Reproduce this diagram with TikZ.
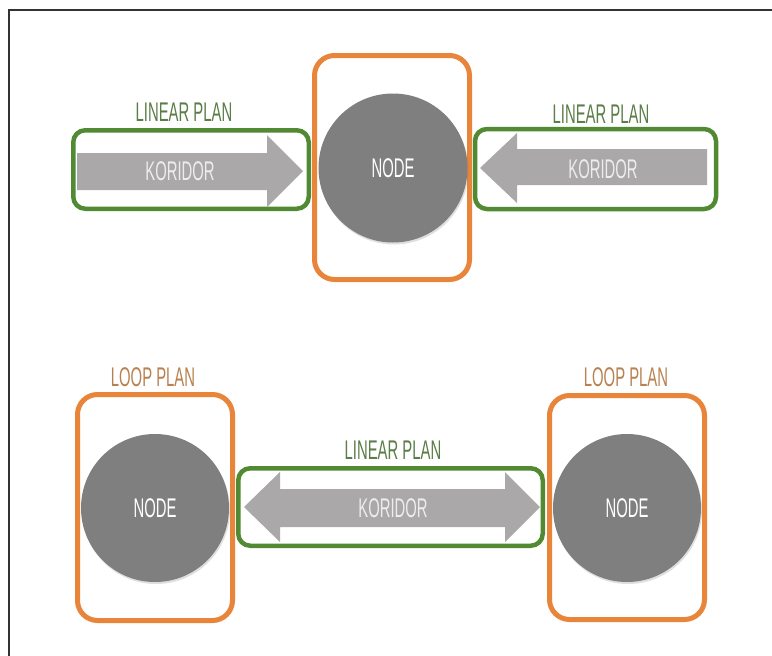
\documentclass[tikz,border=0pt]{standalone}
\usepackage{fontspec}
\usetikzlibrary{shadows}
\newfontfamily\agency[FakeStretch=0.55]{Liberation Sans}
\definecolor{grn}{HTML}{528A34}
\definecolor{org}{HTML}{E8853A}
\definecolor{nodegray}{HTML}{7F7F7F}
\definecolor{arrgray}{HTML}{AAA8A9}
\definecolor{lintxt}{HTML}{5B7D47}
\definecolor{looptxt}{HTML}{B8814F}
\definecolor{frame}{HTML}{333333}
\begin{document}
\begin{tikzpicture}[x=1pt,y=-1pt,
  gbox/.style={draw=grn, line width=4.5pt, rounded corners=12pt, minimum height=78.5pt},
  obox/.style={draw=org, line width=5pt, rounded corners=20pt, minimum width=155pt, minimum height=225pt},
  nodecirc/.style={circle, fill=nodegray, text=white, inner sep=0pt, minimum size=148pt,
    drop shadow={opacity=0.25, shadow xshift=1pt, shadow yshift=-2pt},
    font=\agency\fontsize{27}{27}\selectfont},
  arrow/.style={fill=arrgray},
  kortxt/.style={text=white!93!black, font=\agency\fontsize{27}{27}\selectfont},
  lintitle/.style={text=lintxt, font=\agency\fontsize{27}{27}\selectfont},
  looptitle/.style={text=looptxt, font=\agency\fontsize{27}{27}\selectfont}
]
\useasboundingbox (0,0) rectangle (772,656);
\clip (0,0) rectangle (772,656);
\fill[white] (0,0) rectangle (772,656);
\draw[frame, line width=1.4pt] (9,700) -- (9,10) -- (800,10);

% top row
\node[gbox, minimum width=235.5pt] (gL) at (191,169.5) {};
\node[gbox, minimum width=241pt, minimum height=80pt] (gR) at (595.5,169) {};
\node[obox, minimum height=224pt] (oC) at (392,167.5) {};
\node[nodecirc, minimum size=149pt] (nC) at (393,168) {NODE};
\fill[arrow] (77,153) -- (267,153) -- (267,135) -- (303,171) -- (267,207) -- (267,190) -- (77,190) -- cycle;
\fill[arrow] (707,149) -- (517,149) -- (517,133) -- (480,168) -- (517,203) -- (517,185) -- (707,185) -- cycle;
\node[kortxt] (kL) at (180,171) {KORIDOR};
\node[kortxt] (kR) at (603,169) {KORIDOR};
\node[lintitle] (tL) at (184,112.5) {LINEAR PLAN};
\node[lintitle] (tR) at (601,114.5) {LINEAR PLAN};

% bottom row
\node[obox, minimum height=226pt] (oL) at (155,507.5) {};
\node[obox, minimum height=224pt] (oR) at (627,507.5) {};
\node[nodecirc] (nL) at (155,508) {NODE};
\node[nodecirc] (nR) at (627,508) {NODE};
\node[gbox, minimum width=304.5pt, minimum height=77.5pt] (gM) at (390.5,507) {};
\fill[arrow] (244,507) -- (280,472) -- (280,489) -- (505,489) -- (505,472) -- (540,507) -- (505,542) -- (505,527) -- (280,527) -- (280,542) -- cycle;
\node[kortxt] (kM) at (393,508) {KORIDOR};
\node[lintitle] (tM) at (393,450) {LINEAR PLAN};
\node[looptitle] (lL) at (153,377) {LOOP PLAN};
\node[looptitle] (lR) at (626,377) {LOOP PLAN};
\end{tikzpicture}
\end{document}
